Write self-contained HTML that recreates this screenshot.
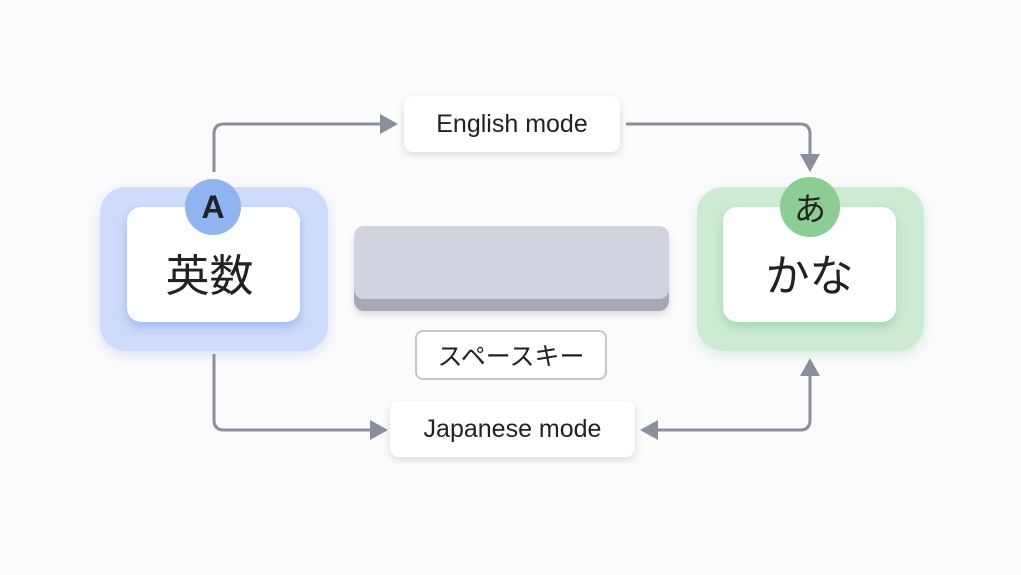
<!DOCTYPE html>
<html><head><meta charset="utf-8"><style>
body{margin:0;width:1021px;height:575px;background:#fbfbfc;position:relative;overflow:hidden;font-family:"Liberation Sans","Noto Sans CJK JP",sans-serif}
.a{position:absolute;box-sizing:border-box}
.outer{border-radius:26px}
.inner{background:#fff;border-radius:14px;display:flex;align-items:center;justify-content:center;font-size:44px;color:#222;padding-top:14px}
.lbl{background:#fff;border-radius:9px;box-shadow:0 3px 8px rgba(0,0,0,.13);display:flex;align-items:center;justify-content:center;font-size:25px;color:#222}
.circ{border-radius:50%;display:flex;align-items:center;justify-content:center;color:#222}
</style></head><body>
<svg class="a" style="left:0;top:0" width="1021" height="575">
<g fill="none" stroke="#8a8f9c" stroke-width="3">
<path d="M214 172 V134 Q214 124 224 124 H385"/>
<path d="M626 124 H800 Q810 124 810 134 V158"/>
<path d="M214 354 V420 Q214 430 224 430 H375"/>
<path d="M810 375 V420 Q810 430 800 430 H655"/>
</g>
<g fill="#8a8f9c">
<path d="M398 124 L380 114 L380 134Z"/>
<path d="M810 172 L800 154 L820 154Z"/>
<path d="M388 430 L370 420 L370 440Z"/>
<path d="M810 358 L800 376 L820 376Z"/>
<path d="M640 430 L658 420 L658 440Z"/>
</g>
</svg>
<div class="a outer" style="left:100px;top:187px;width:228px;height:164px;background:#cddcfa;box-shadow:0 4px 12px rgba(120,150,220,.25)"></div>
<div class="a inner" style="left:127px;top:207px;width:173px;height:115px;box-shadow:0 5px 10px rgba(100,140,230,.45);padding-right:8px">英数</div>
<div class="a circ" style="left:185px;top:179px;width:56px;height:56px;background:#90b4f0;font-size:32px;font-weight:bold">A</div>
<div class="a outer" style="left:697px;top:187px;width:227px;height:164px;background:#cdebd3;box-shadow:0 4px 12px rgba(120,190,140,.25)"></div>
<div class="a inner" style="left:723px;top:207px;width:173px;height:115px;box-shadow:0 5px 10px rgba(110,190,130,.45)">かな</div>
<div class="a circ" style="left:780px;top:177px;width:60px;height:60px;background:#8ccc95;font-size:32px">あ</div>
<div class="a lbl" style="left:404px;top:96px;width:216px;height:56px">English mode</div>
<div class="a lbl" style="left:390px;top:401px;width:245px;height:56px">Japanese mode</div>
<div class="a" style="left:354px;top:228px;width:315px;height:83px;background:#a7a9b9;border-radius:10px;box-shadow:0 4px 8px rgba(0,0,0,.12)"></div>
<div class="a" style="left:354px;top:226px;width:315px;height:73px;background:#d1d3de;border-radius:10px"></div>
<div class="a" style="left:415px;top:330px;width:192px;height:50px;border:2px solid #c4c6cf;border-radius:8px;background:#fff;display:flex;align-items:center;justify-content:center;font-size:25px;color:#222">スペースキー</div>
</body></html>
